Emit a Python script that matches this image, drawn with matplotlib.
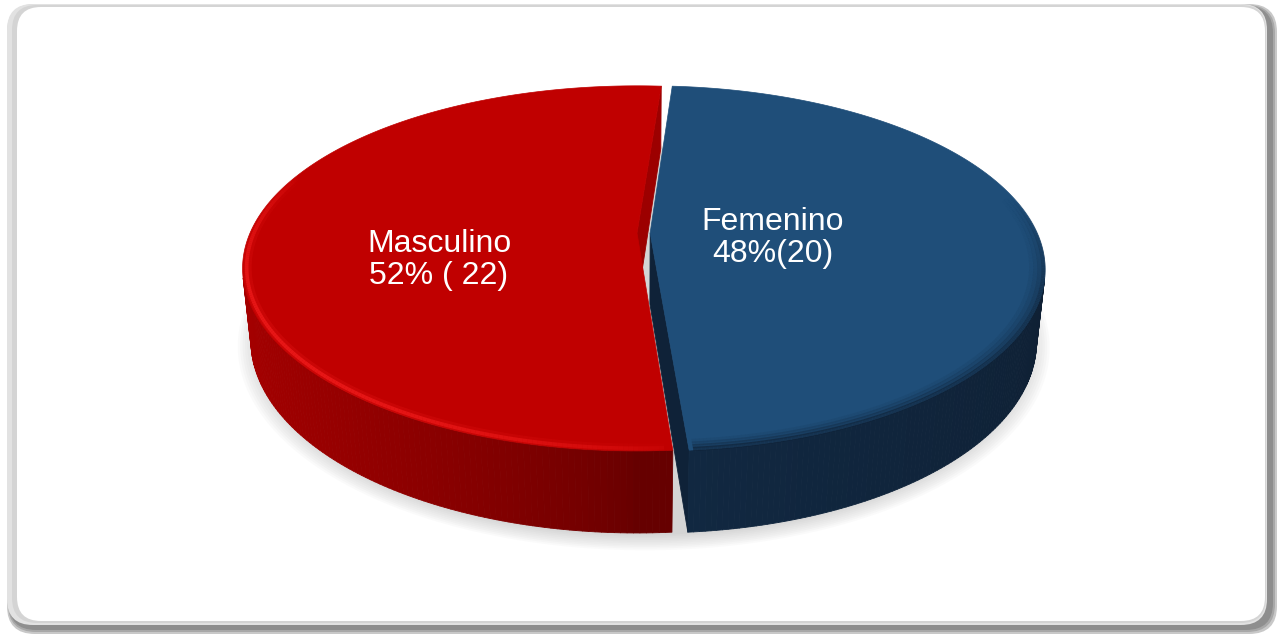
import numpy as np
import matplotlib
matplotlib.use('Agg')
import matplotlib.pyplot as plt
from matplotlib.patches import Polygon, FancyBboxPatch
from matplotlib.collections import LineCollection, PolyCollection
from matplotlib.colors import to_rgb

# ---------------- data ----------------
categories = ['Masculino', 'Femenino']
counts = [22, 20]
label_texts = ['Masculino\n52% ( 22)', 'Femenino\n48%(20)']
top_colors = ['#C00000', '#1F4E79']
wall_light = ['#A60000', '#112841']
wall_dark = ['#660000', '#0E1E31']
cut_colors = ['#9C0000', '#0F2238']
explode = [0.0, 0.034]

# ---------------- figure ----------------
W, H = 1277, 634
fig = plt.figure(figsize=(W / 100, H / 100), dpi=100)
ax = fig.add_axes([0, 0, 1, 1])
ax.set_xlim(0, W)
ax.set_ylim(H, 0)
ax.axis('off')

# frame with shadow
def rbox(x0, y0, x1, y1, fc, r=26, z=0):
    p = FancyBboxPatch((x0, y0), x1 - x0, y1 - y0,
                       boxstyle=f"round,pad=0,rounding_size={r}",
                       fc=fc, ec='none', zorder=z)
    ax.add_patch(p)

rbox(7, 4, 1277, 634, '#c8c8c8', 28, 0)
rbox(8, 5, 1275, 632, '#a8a8a8', 28, 0.1)
rbox(9, 6, 1273, 630, '#8e8e8e', 27, 0.2)
rbox(7, 4, 1267, 625, '#e2e2e2', 26, 0.3)
rbox(12, 5, 1266, 623, '#d4d4d4', 25, 0.35)
rbox(17, 7, 1265, 621, '#ffffff', 24, 0.4)

# ---------------- 3D pie geometry ----------------
s_phi, c_phi = 0.454, 0.891
Dcam = 4.6
Fcam = 1780.0
CX, CY = 637.0, 233.0
T = 0.21
cam = np.array([0.0, -Dcam * c_phi, Dcam * s_phi])


def proj(X, Y, Z):
    X = np.asarray(X, float)
    Y = np.asarray(Y, float)
    Z = np.asarray(Z, float)
    d = Dcam + Y * c_phi - Z * s_phi
    sx = Fcam * X / d
    sy = Fcam * (Y * s_phi + Z * c_phi) / d
    return CX + sx, CY - sy


total = float(sum(counts))
fracs = [c / total for c in counts]
span0 = 360 * fracs[0]
start = 90 - (span0 - 180) / 2
spans = []
a = start
for f in fracs:
    spans.append((a, a + 360 * f))
    a += 360 * f

offsets = []
for (a0, a1), e in zip(spans, explode):
    mid = np.radians((a0 + a1) / 2)
    offsets.append((e * np.cos(mid), e * np.sin(mid)))

# soft shadow under the pie
sh_th = np.radians(np.linspace(0, 360, 361))
for k in range(10):
    r = 0.995 + 0.006 * k
    xs, ys = proj(0.017 + r * np.cos(sh_th), -0.005 + r * np.sin(sh_th),
                  np.full_like(sh_th, -T - 0.005))
    ax.add_patch(Polygon(np.column_stack([xs, ys]), closed=True,
                         fc='#808080', ec='none', alpha=0.035, zorder=1))


def mix(c1, c2, k):
    c1 = np.array(to_rgb(c1))
    c2 = np.array(to_rgb(c2))
    return tuple(c2 + (c1 - c2) * k)


def wall_k(i, th_deg):
    if i == 0:
        return max(0.0, np.cos(np.radians(th_deg - 180))) ** 0.7
    tt = th_deg - 360
    return float(np.clip(-tt / 86.4, 0, 1))


faces = []
for i, (a0, a1) in enumerate(spans):
    ox, oy = offsets[i]
    th = np.radians(np.linspace(a0, a1, 241))
    for j in range(len(th) - 1):
        tm = 0.5 * (th[j] + th[j + 1])
        P = np.array([ox + np.cos(tm), oy + np.sin(tm), -T / 2])
        n = np.array([np.cos(tm), np.sin(tm), 0.0])
        if n.dot(cam - P) <= 0:
            continue
        t2 = [th[j], th[j + 1], th[j + 1], th[j]]
        xs, ys = proj(ox + np.cos(t2), oy + np.sin(t2), [0, 0, -T, -T])
        col = mix(wall_light[i], wall_dark[i], wall_k(i, np.degrees(tm)))
        faces.append((np.linalg.norm(cam - P), np.column_stack([xs, ys]), col))
    # cut faces
    for ang, nvec in [(np.radians(a0), lambda t: (np.sin(t), -np.cos(t))),
                      (np.radians(a1), lambda t: (-np.sin(t), np.cos(t)))]:
        nx, ny = nvec(ang)
        P = np.array([ox + 0.5 * np.cos(ang), oy + 0.5 * np.sin(ang), -T / 2])
        if np.array([nx, ny, 0]).dot(cam - P) <= 0:
            continue
        X = [ox, ox + np.cos(ang), ox + np.cos(ang), ox]
        Y = [oy, oy + np.sin(ang), oy + np.sin(ang), oy]
        xs, ys = proj(X, Y, [0, 0, -T, -T])
        faces.append((np.linalg.norm(cam - P), np.column_stack([xs, ys]),
                      to_rgb(cut_colors[i])))

faces.sort(key=lambda f: -f[0])
pc = PolyCollection([f[1] for f in faces], facecolors=[f[2] for f in faces],
                    edgecolors=[f[2] for f in faces], linewidths=0.6, zorder=3)
ax.add_collection(pc)

# top faces
for i, (a0, a1) in enumerate(spans):
    ox, oy = offsets[i]
    th = np.radians(np.linspace(a0, a1, 361))
    X = np.concatenate([[ox], ox + np.cos(th)])
    Y = np.concatenate([[oy], oy + np.sin(th)])
    xs, ys = proj(X, Y, np.zeros_like(X))
    ax.add_patch(Polygon(np.column_stack([xs, ys]), closed=True,
                         fc=top_colors[i], ec=top_colors[i], lw=0.5, zorder=4))


def edge_lines(ox, oy, r, th, color, alpha, lw):
    xs, ys = proj(ox + r * np.cos(th), oy + r * np.sin(th), np.zeros_like(th))
    pts = np.column_stack([xs, ys]).reshape(-1, 1, 2)
    segs = np.concatenate([pts[:-1], pts[1:]], axis=1)
    rgb = to_rgb(color)
    cols = [(rgb[0], rgb[1], rgb[2], al) for al in alpha]
    ax.add_collection(LineCollection(segs, colors=cols, linewidths=lw, zorder=5,
                                     capstyle='butt'))


# bevel highlight on the red front edge
a0, a1 = spans[0]
th = np.radians(np.linspace(max(a0, 150), a1 - 1, 200))
tdeg = np.degrees(th[:-1])
prof = np.clip(np.sin(np.radians((tdeg - 160) / (a1 - 160) * 180)), 0, 1) ** 0.6
for r, lw, amax in [(0.988, 6, 0.25), (0.99, 2.6, 0.85)]:
    edge_lines(0, 0, r, th, '#ED1A1A', amax * prof, lw)

# darker bevel on the blue front edge, fading at the right
ox, oy = offsets[1]
a0, a1 = spans[1]
th = np.radians(np.linspace(a0 + 0.5, 372, 200))
tdeg = np.degrees(th[:-1])
prof = np.clip((372 - tdeg) / 30.0, 0, 1)
for r, al in [(0.996, 0.55), (0.986, 0.32), (0.976, 0.18), (0.966, 0.08)]:
    edge_lines(ox, oy, r, th, '#0E1E31', al * prof, 3)

# labels
label_pos = [(439, 260), (773, 238)]
for txt, (x, y) in zip(label_texts, label_pos):
    ax.text(x, y, txt, ha='center', va='center', color='white', fontsize=23,
            family=['Liberation Sans', 'DejaVu Sans'], linespacing=1.1,
            zorder=6, multialignment='center')

fig.savefig('out.png', dpi=100)
